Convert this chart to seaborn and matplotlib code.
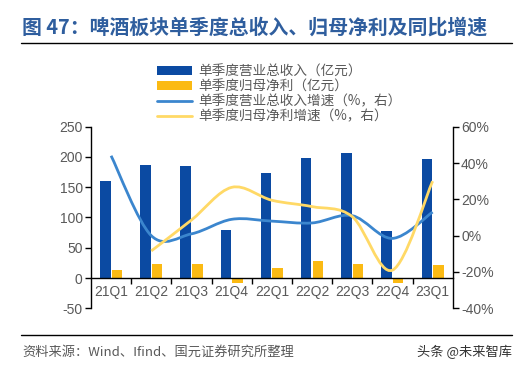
import numpy as np
import pandas as pd
import matplotlib
matplotlib.use("Agg")
import matplotlib.pyplot as plt
from matplotlib.path import Path
from matplotlib.patches import PathPatch, Patch
from matplotlib.lines import Line2D
import seaborn as sns

quarters = ["21Q1", "21Q2", "21Q3", "21Q4", "22Q1", "22Q2", "22Q3", "22Q4", "23Q1"]
revenue = [161, 186, 185, 80, 174, 199, 206, 78, 196]
net_profit = [13, 24, 23, -8, 16, 28, 24, -9, 21]
revenue_growth = [44, 0, 1, 9, 8, 7, 11, -1.5, 13]
profit_growth = [np.nan, -8.4, 8.6, 26.6, 19.5, 16, 10.5, -19, 30]

name_rev = "单季度营业总收入（亿元）"
name_np = "单季度归母净利（亿元）"
name_rg = "单季度营业总收入增速（%，右）"
name_pg = "单季度归母净利增速（%，右）"

C_BLUE = "#0B4AA2"
C_ORANGE = "#FBBA13"
C_LBLUE = "#3B86CE"
C_YELLOW = "#FFD966"
C_GRAY = "#595959"

sns.set_theme(style="white")
plt.rcParams["font.family"] = ["Liberation Sans", "Noto Sans CJK SC", "DejaVu Sans"]
plt.rcParams["axes.unicode_minus"] = False
CJK = ["Noto Sans CJK SC", "DejaVu Sans"]

df = pd.DataFrame({
    "q": quarters * 2,
    "v": revenue + net_profit,
    "s": [name_rev] * len(quarters) + [name_np] * len(quarters),
})

fig = plt.figure(figsize=(5.32, 3.73), dpi=100)
ax = fig.add_axes([91 / 532, 1 - 308.3 / 373, (452.7 - 91) / 532, (308.3 - 126.7) / 373])

sns.barplot(data=df, x="q", y="v", hue="s", order=quarters,
            palette=[C_BLUE, C_ORANGE], width=0.58, gap=0.1,
            legend=False, ax=ax, saturation=1, linewidth=0)

ax.set_xlim(-0.5, len(quarters) - 0.5)
ax.set_ylim(-50, 250)
ax.set_yticks([-50, 0, 50, 100, 150, 200, 250])
ax.set_xlabel("")
ax.set_ylabel("")

ax2 = ax.twinx()
ax2.set_ylim(-40, 60)
ax2.set_yticks([-40, -20, 0, 20, 40, 60])
ax2.set_yticklabels([f"{t}%" for t in [-40, -20, 0, 20, 40, 60]])


def smooth_path(xs, ys):
    pts = [(x, y) for x, y in zip(xs, ys) if not np.isnan(y)]
    P = np.array(pts, dtype=float)
    n = len(P)
    verts = [P[0]]
    codes = [Path.MOVETO]
    for i in range(n - 1):
        p0 = P[i - 1] if i > 0 else P[i]
        p1 = P[i]
        p2 = P[i + 1]
        p3 = P[i + 2] if i + 2 < n else P[i + 1]
        c1 = p1 + (p2 - p0) / 6.0
        c2 = p2 - (p3 - p1) / 6.0
        verts += [c1, c2, p2]
        codes += [Path.CURVE4] * 3
    return Path(verts, codes)


xpos = np.arange(len(quarters))
for vals, col in [(revenue_growth, C_LBLUE), (profit_growth, C_YELLOW)]:
    patch = PathPatch(smooth_path(xpos, vals), facecolor="none", edgecolor=col,
                      lw=2.0, capstyle="butt", zorder=5)
    ax2.add_patch(patch)

# spines and ticks
for a in (ax, ax2):
    a.spines["top"].set_visible(False)
ax.spines["right"].set_visible(False)
ax2.spines["left"].set_visible(False)
ax2.spines["bottom"].set_visible(False)
ax.spines["left"].set_color("black")
ax2.spines["right"].set_color("black")
ax.spines["left"].set_linewidth(1.0)
ax2.spines["right"].set_linewidth(1.0)
ax.spines["bottom"].set_position(("data", 0))
ax.spines["bottom"].set_color("black")
ax.spines["bottom"].set_linewidth(1.0)

ax.tick_params(axis="y", which="major", direction="out", length=4, width=1,
               color="black", labelsize=10, labelcolor=C_GRAY, left=True, pad=2)
ax2.tick_params(axis="y", which="major", direction="out", length=4, width=1,
                color="black", labelsize=10, labelcolor=C_GRAY, right=True, pad=2)
ax.set_xticks(xpos)
ax.set_xticks(np.arange(0.5, len(quarters) - 0.5, 1.0), minor=True)
ax.tick_params(axis="x", which="major", length=0, labelsize=10, labelcolor=C_GRAY, pad=5)
ax.tick_params(axis="x", which="minor", direction="out", length=4, width=1,
               color="black", bottom=True)
ax.grid(False)
ax2.grid(False)

# legend
handles = [Patch(facecolor=C_BLUE, edgecolor="none"),
           Patch(facecolor=C_ORANGE, edgecolor="none"),
           Line2D([], [], color=C_LBLUE, lw=2.0),
           Line2D([], [], color=C_YELLOW, lw=2.0)]
leg = fig.legend(handles, [name_rev, name_np, name_rg, name_pg],
                 loc="upper left", bbox_to_anchor=(147 / 532, 1 - 55 / 373),
                 frameon=False, prop={"family": CJK, "size": 9.8},
                 handlelength=2.6, handleheight=0.6, handletextpad=0.5,
                 labelspacing=0.08, borderpad=0.2)
for t in leg.get_texts():
    t.set_color(C_GRAY)

# title and rules
fig.text(22 / 532, 1 - 27 / 373, "图 47：啤酒板块单季度总收入、归母净利及同比增速",
         family=CJK, fontsize=14.3, fontweight="bold", color="#2F5E9E",
         ha="left", va="center")
fig.add_artist(Line2D([21 / 532, 512 / 532], [1 - 43 / 373, 1 - 43 / 373],
                      color="black", lw=1.0, transform=fig.transFigure))
fig.add_artist(Line2D([21 / 532, 512 / 532], [1 - 335 / 373, 1 - 335 / 373],
                      color="black", lw=1.0, transform=fig.transFigure))
fig.text(22 / 532, 1 - 352 / 373, "资料来源：Wind、Ifind、国元证券研究所整理",
         family=CJK, fontsize=9.5, color=C_GRAY, ha="left", va="center")
fig.text(512 / 532, 1 - 352 / 373, "头条 @未来智库",
         family=CJK, fontsize=9.5, color="#333333", ha="right", va="center")

fig.savefig("out.png", dpi=100)
